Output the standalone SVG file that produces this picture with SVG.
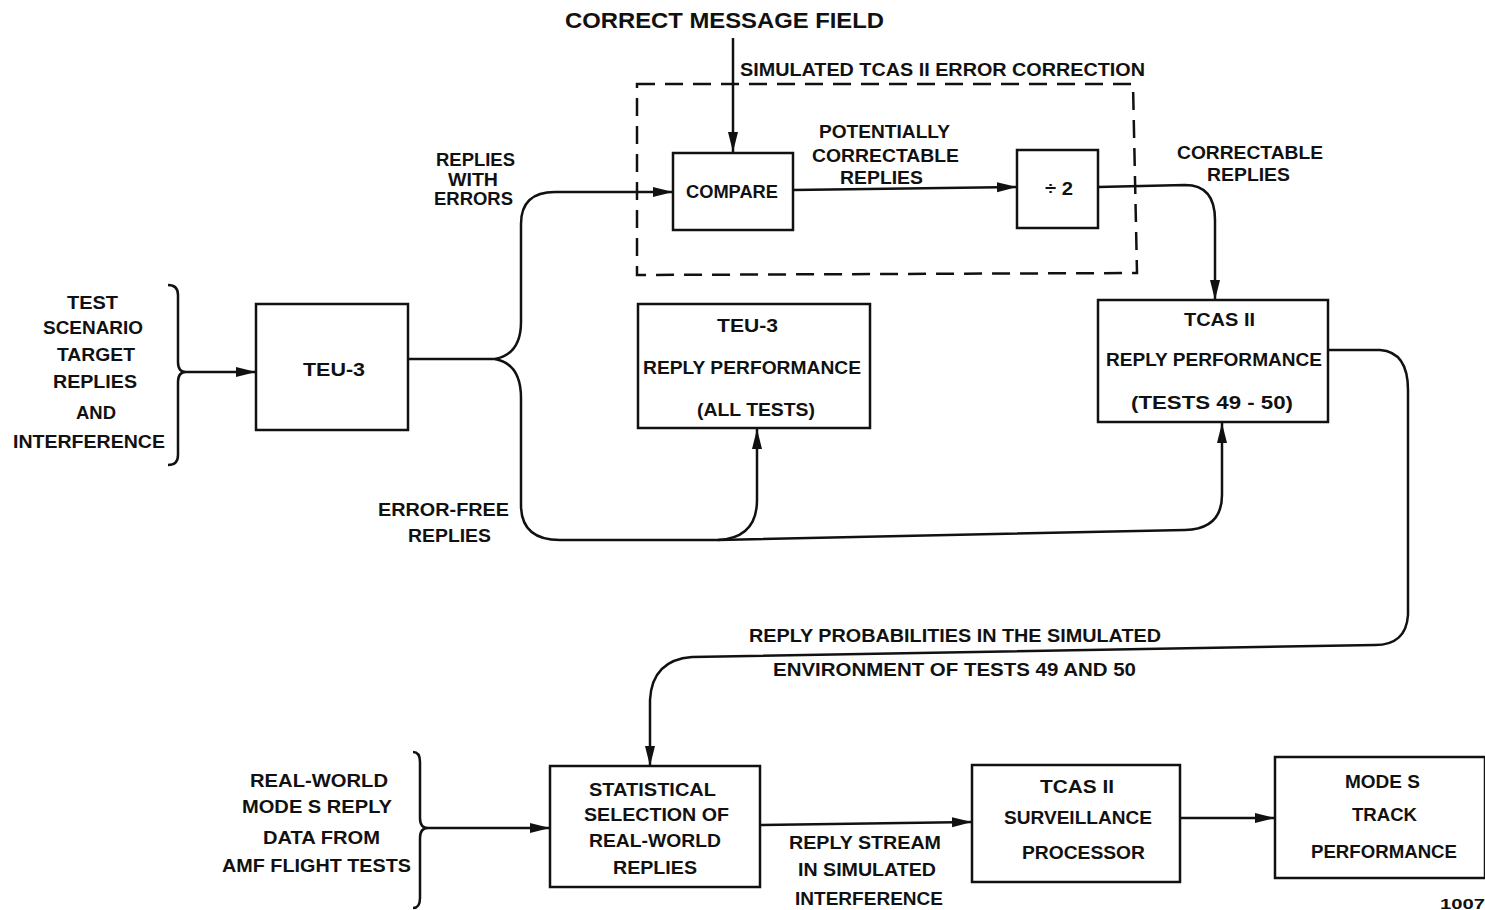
<svg xmlns="http://www.w3.org/2000/svg" width="1485" height="910" viewBox="0 0 1485 910">
<style>
text{font-family:"Liberation Sans",Arial,sans-serif;font-weight:bold;font-size:18px;fill:#111;text-anchor:middle}
.box{fill:#fff;stroke:#111;stroke-width:2.5}
.ln{fill:none;stroke:#111;stroke-width:2.5}
.arr{fill:none;stroke:#111;stroke-width:2.5;marker-end:url(#ah)}
.dash{fill:none;stroke:#111;stroke-width:2.5;stroke-dasharray:18 10}
</style>
<defs>
<marker id="ah" markerUnits="userSpaceOnUse" markerWidth="22" markerHeight="12" refX="20" refY="5" orient="auto">
<path d="M0,0 L20,5 L0,10 z" fill="#111"/>
</marker>
</defs>
<rect width="1485" height="910" fill="#fff"/>

<g id="connectors">
<path class="arr" d="M733,38 L733,152"/>
<path class="arr" d="M793,190 L1017,187"/>
<path class="arr" d="M1098,187 L1185,185 Q1215,185 1215,220 L1215,300"/>
<path class="arr" d="M408,359 L495,359 Q521,354 521,322 L521,224 Q521,192 555,192 L673,192"/>
<path class="arr" d="M495,359 Q521,364 521,398 L521,505 Q521,540 560,540 L718,540 Q757,538 757,500 L757,429"/>
<path class="arr" d="M718,540 L1185,530 Q1222,529 1222,495 L1222,423"/>
<path class="arr" d="M1328,350 L1380,350 Q1408,352 1408,390 L1408,615 Q1406,645 1375,645 L692,657 Q652,660 650,700 L650,766"/>
<path class="ln" d="M168,285 Q178,285 178,295 L178,362 Q178,372 186,372 Q178,372 178,382 L178,455 Q178,465 168,465"/>
<path class="arr" d="M186,372 L256,372"/>
<path class="ln" d="M413,752 Q420,752 420,762 L420,818 Q420,828 428,828 Q420,828 420,838 L420,898 Q420,908 413,908"/>
<path class="arr" d="M428,828 L550,828"/>
<path class="arr" d="M760,825 L972,822"/>
<path class="arr" d="M1180,818 L1275,818"/>
</g>

<g id="error-correction-group">
<path class="dash" d="M637,84 L1133,84 L1137,273 L637,275 Z"/>
<text x="942.5" y="76" style="font-size:18px" textLength="405" lengthAdjust="spacingAndGlyphs">SIMULATED TCAS II ERROR CORRECTION</text>
</g>

<g id="title"><text x="724.5" y="28" style="font-size:22px" textLength="319" lengthAdjust="spacingAndGlyphs">CORRECT MESSAGE FIELD</text></g>

<g id="compare"><rect class="box" x="673" y="153" width="120" height="77"/><text x="732" y="198" textLength="92" lengthAdjust="spacingAndGlyphs">COMPARE</text></g>
<g id="div2"><rect class="box" x="1017" y="150" width="81" height="78"/><text x="1059" y="195" textLength="28" lengthAdjust="spacingAndGlyphs">÷ 2</text></g>
<g id="lbl-potentially"><text x="884.5" y="138" textLength="131" lengthAdjust="spacingAndGlyphs">POTENTIALLY</text><text x="885.5" y="162" textLength="147" lengthAdjust="spacingAndGlyphs">CORRECTABLE</text><text x="881.5" y="184" textLength="83" lengthAdjust="spacingAndGlyphs">REPLIES</text></g>
<g id="lbl-correctable"><text x="1250" y="159" textLength="146" lengthAdjust="spacingAndGlyphs">CORRECTABLE</text><text x="1248.5" y="181" textLength="83" lengthAdjust="spacingAndGlyphs">REPLIES</text></g>
<g id="lbl-errors"><text x="475.5" y="166" textLength="79" lengthAdjust="spacingAndGlyphs">REPLIES</text><text x="473" y="186" textLength="50" lengthAdjust="spacingAndGlyphs">WITH</text><text x="473.5" y="205" textLength="79" lengthAdjust="spacingAndGlyphs">ERRORS</text></g>
<g id="lbl-errorfree"><text x="443.5" y="516" textLength="131" lengthAdjust="spacingAndGlyphs">ERROR-FREE</text><text x="449.5" y="542" textLength="83" lengthAdjust="spacingAndGlyphs">REPLIES</text></g>

<g id="input-left"><text x="92.5" y="309" textLength="51" lengthAdjust="spacingAndGlyphs">TEST</text><text x="93" y="334" textLength="100" lengthAdjust="spacingAndGlyphs">SCENARIO</text><text x="96" y="361" textLength="78" lengthAdjust="spacingAndGlyphs">TARGET</text><text x="95" y="388" textLength="84" lengthAdjust="spacingAndGlyphs">REPLIES</text><text x="96" y="419" textLength="40" lengthAdjust="spacingAndGlyphs">AND</text><text x="89" y="448" textLength="152" lengthAdjust="spacingAndGlyphs">INTERFERENCE</text></g>

<g id="teu3"><rect class="box" x="256" y="304" width="152" height="126"/><text x="334" y="376" textLength="62" lengthAdjust="spacingAndGlyphs">TEU-3</text></g>
<g id="teu3-perf"><rect class="box" x="638" y="304" width="232" height="124"/><text x="747.5" y="332" textLength="61" lengthAdjust="spacingAndGlyphs">TEU-3</text><text x="752" y="374" textLength="218" lengthAdjust="spacingAndGlyphs">REPLY PERFORMANCE</text><text x="756" y="416" textLength="118" lengthAdjust="spacingAndGlyphs">(ALL TESTS)</text></g>
<g id="tcas-perf"><rect class="box" x="1098" y="300" width="230" height="122"/><text x="1219.5" y="326" textLength="71" lengthAdjust="spacingAndGlyphs">TCAS II</text><text x="1214" y="366" textLength="216" lengthAdjust="spacingAndGlyphs">REPLY PERFORMANCE</text><text x="1212" y="409" textLength="162" lengthAdjust="spacingAndGlyphs">(TESTS 49 - 50)</text></g>

<g id="lbl-prob"><text x="955" y="642" textLength="412" lengthAdjust="spacingAndGlyphs">REPLY PROBABILITIES IN THE SIMULATED</text><text x="954.5" y="676" textLength="363" lengthAdjust="spacingAndGlyphs">ENVIRONMENT OF TESTS 49 AND 50</text></g>

<g id="input-real"><text x="319" y="787" textLength="138" lengthAdjust="spacingAndGlyphs">REAL-WORLD</text><text x="317" y="813" textLength="150" lengthAdjust="spacingAndGlyphs">MODE S REPLY</text><text x="321.5" y="844" textLength="117" lengthAdjust="spacingAndGlyphs">DATA FROM</text><text x="316.5" y="872" textLength="189" lengthAdjust="spacingAndGlyphs">AMF FLIGHT TESTS</text></g>

<g id="statistical"><rect class="box" x="550" y="766" width="210" height="121"/><text x="652.5" y="796" textLength="127" lengthAdjust="spacingAndGlyphs">STATISTICAL</text><text x="656.5" y="821" textLength="145" lengthAdjust="spacingAndGlyphs">SELECTION OF</text><text x="655" y="847" textLength="132" lengthAdjust="spacingAndGlyphs">REAL-WORLD</text><text x="655" y="874" textLength="84" lengthAdjust="spacingAndGlyphs">REPLIES</text></g>
<g id="lbl-stream"><text x="865" y="849" textLength="152" lengthAdjust="spacingAndGlyphs">REPLY STREAM</text><text x="867" y="876" textLength="138" lengthAdjust="spacingAndGlyphs">IN SIMULATED</text><text x="869" y="905" textLength="148" lengthAdjust="spacingAndGlyphs">INTERFERENCE</text></g>
<g id="surveillance"><rect class="box" x="972" y="765" width="208" height="117"/><text x="1077" y="793" textLength="74" lengthAdjust="spacingAndGlyphs">TCAS II</text><text x="1078" y="824" textLength="148" lengthAdjust="spacingAndGlyphs">SURVEILLANCE</text><text x="1083.5" y="859" textLength="123" lengthAdjust="spacingAndGlyphs">PROCESSOR</text></g>
<g id="track"><rect class="box" x="1275" y="757" width="210" height="121"/><text x="1382.5" y="788" textLength="75" lengthAdjust="spacingAndGlyphs">MODE S</text><text x="1384.5" y="821" textLength="65" lengthAdjust="spacingAndGlyphs">TRACK</text><text x="1384" y="858" textLength="146" lengthAdjust="spacingAndGlyphs">PERFORMANCE</text></g>
<text x="1462.5" y="909" style="font-size:15px" textLength="45" lengthAdjust="spacingAndGlyphs">1007</text>
</svg>
